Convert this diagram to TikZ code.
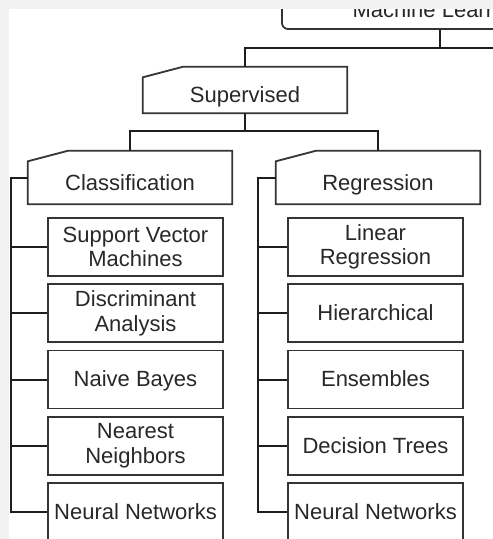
\documentclass[tikz,border=0pt]{standalone}
\usepackage{fontspec}
\setmainfont{Liberation Sans}
\usetikzlibrary{calc}
\definecolor{pagegray}{RGB}{242,242,242}
\definecolor{ink}{RGB}{40,40,40}
\definecolor{edge}{RGB}{52,52,52}
\definecolor{wirec}{RGB}{30,30,30}
\newcommand{\lblfont}{\fontsize{22pt}{24.5pt}\selectfont}

\begin{document}
\begin{tikzpicture}[x=1pt,y=1pt,
  wire/.style={line width=2pt, draw=wirec},
  boxline/.style={line width=1.8pt, draw=edge, line join=miter},
  leaf/.style={boxline, rectangle, minimum width=175pt, minimum height=58pt,
    inner sep=0pt, align=center, font=\lblfont, text=ink},
  oneline/.style={text height=15.5pt, text depth=1pt},
  head/.style={rectangle, minimum width=204pt, inner sep=0pt,
    text height=25pt, text depth=0pt, font=\lblfont, text=ink},
  root/.style={boxline, rectangle, rounded corners=6pt, minimum width=316pt,
    minimum height=34pt, inner sep=0pt, text height=15.5pt, text depth=4.5pt,
    font=\lblfont, text=ink},
]
\useasboundingbox (0,0) rectangle (493,-539);
\fill[pagegray] (0,0) rectangle (493,-539);
\begin{scope}
\clip (9,-9) rectangle (493,-539);
\fill[white] (9,-9) rectangle (493,-539);

% top of the hierarchy and the two category heads
\node[root] (ml) at (440,-12) {Machine Learning};
\node[head, minimum height=46pt] (sup) at (245,-90) {Supervised};
\node[head, minimum height=53pt] (cls) at (130,-177.5) {Classification};
\node[head, minimum height=53pt] (reg) at (378,-177.5) {Regression};

% heads drawn as cards with a clipped top-left corner
\foreach \n in {sup,cls,reg}
  \draw[boxline] (\n.south west) -- ($(\n.north west)+(0,-10.5)$)
    -- ($(\n.north west)+(40,0)$) -- (\n.north east) -- (\n.south east) -- cycle;

% classification methods
\node[leaf] (svm) at (135.5,-247) {Support Vector\\Machines};
\node[leaf] (da) at (135.5,-313.25) {Discriminant\\Analysis};
\node[leaf, oneline] (nb) at (135.5,-379.5) {Naive Bayes};
\node[leaf] (nn) at (135.5,-445.75) {Nearest\\Neighbors};
\node[leaf, oneline] (cnet) at (135.5,-512) {Neural Networks};

% regression methods
\node[leaf] (lin) at (375.5,-247) {Linear\\Regression};
\node[leaf, oneline] (hier) at (375.5,-313.25) {Hierarchical};
\node[leaf, oneline] (ens) at (375.5,-379.5) {Ensembles};
\node[leaf, oneline] (dt) at (375.5,-445.75) {Decision Trees};
\node[leaf, oneline] (rnet) at (375.5,-512) {Neural Networks};

% tree connectors
\coordinate (mlj) at (440,-48);
\coordinate (offR) at (505,-48);
\draw[wire] (ml.south) -- (mlj);
\draw[wire] (offR) -| (sup.north);

\coordinate (supj) at ($(sup.south)+(0,-18)$);
\draw[wire] (sup.south) -- (supj);
\draw[wire] (cls.north) |- (supj) -| (reg.north);

\coordinate (busL) at (11,-177.5);
\coordinate (busR) at (258,-177.5);
\draw[wire] (cls.west) -- (busL) |- (cnet.west);
\foreach \c in {svm,da,nb,nn} \draw[wire] (busL |- \c.west) -- (\c.west);
\draw[wire] (reg.west) -- (busR) |- (rnet.west);
\foreach \c in {lin,hier,ens,dt} \draw[wire] (busR |- \c.west) -- (\c.west);
\end{scope}
\end{tikzpicture}
\end{document}
